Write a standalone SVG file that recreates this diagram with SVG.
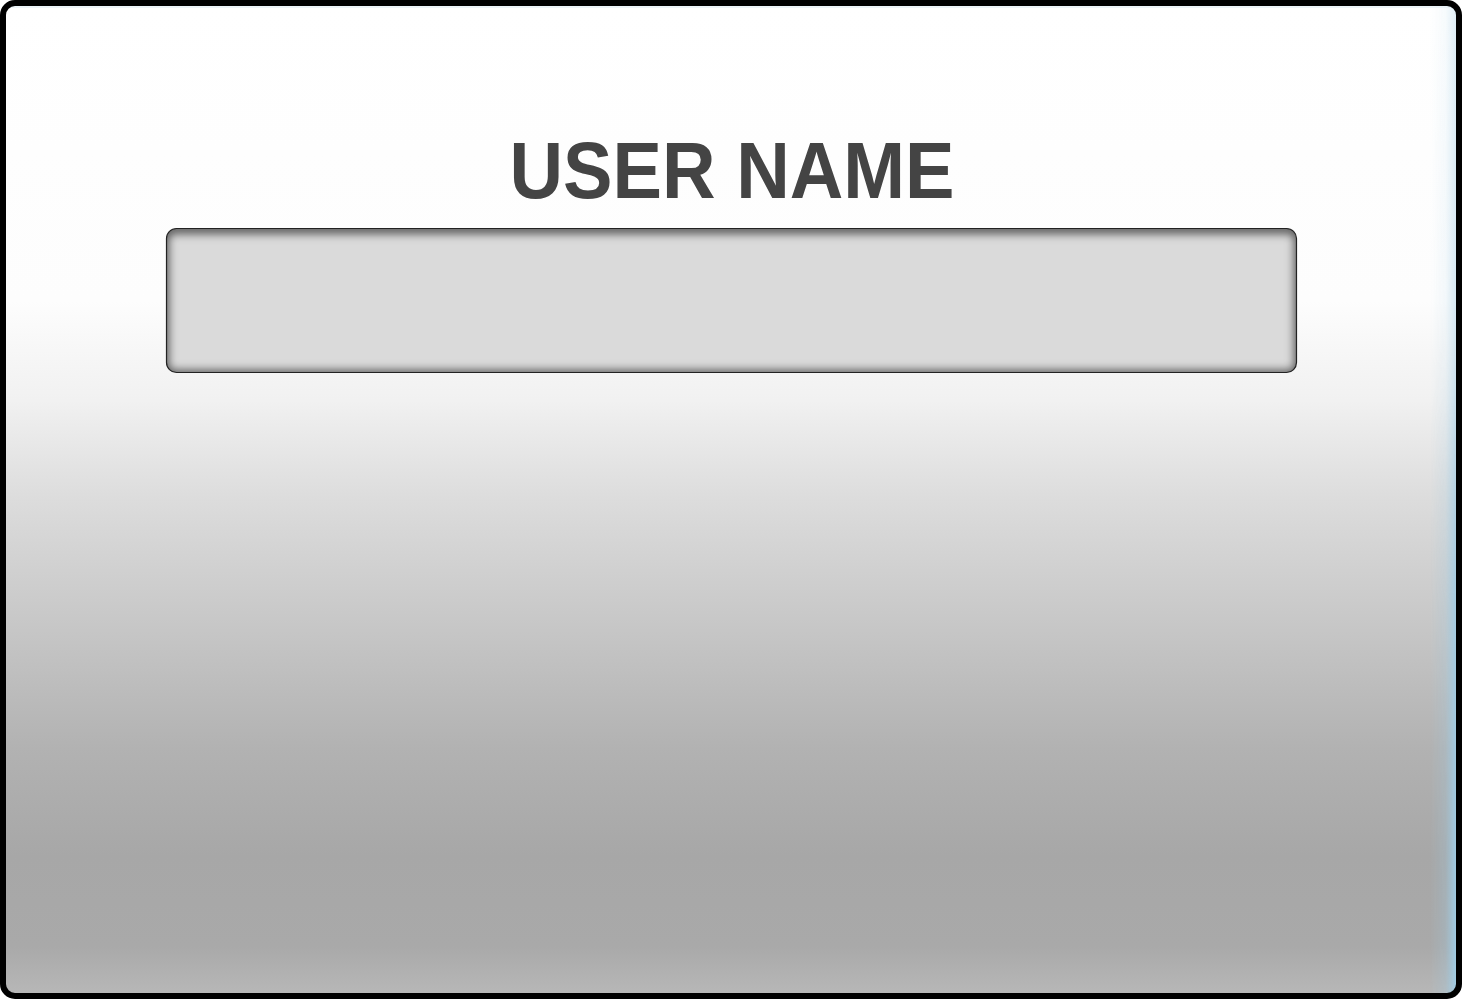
<svg xmlns="http://www.w3.org/2000/svg" width="1462" height="999" viewBox="0 0 1462 999">
  <defs>
    <linearGradient id="bg" x1="0" y1="0" x2="0" y2="1">
      <stop offset="0" stop-color="#ffffff"/>
      <stop offset="0.3" stop-color="#fdfdfd"/>
      <stop offset="0.4" stop-color="#f1f1f1"/>
      <stop offset="0.5" stop-color="#dcdcdc"/>
      <stop offset="0.62" stop-color="#c8c8c8"/>
      <stop offset="0.75" stop-color="#b2b2b2"/>
      <stop offset="0.86" stop-color="#a7a7a7"/>
      <stop offset="0.95" stop-color="#a9a9a9"/>
      <stop offset="1" stop-color="#b8b8b8"/>
    </linearGradient>
    <linearGradient id="edge" x1="0" y1="0" x2="1" y2="0">
      <stop offset="0" stop-color="#9fcde6" stop-opacity="0"/>
      <stop offset="0.6" stop-color="#9fcde6" stop-opacity="0.25"/>
      <stop offset="1" stop-color="#9fcde6" stop-opacity="0.95"/>
    </linearGradient>
    <linearGradient id="edgeFade" x1="0" y1="0" x2="0" y2="1">
      <stop offset="0" stop-color="#fff" stop-opacity="0.35"/>
      <stop offset="0.35" stop-color="#fff" stop-opacity="0.45"/>
      <stop offset="0.6" stop-color="#fff" stop-opacity="0.9"/>
      <stop offset="1" stop-color="#fff" stop-opacity="1"/>
    </linearGradient>
    <mask id="edgeMask">
      <rect x="1420" y="0" width="42" height="999" fill="url(#edgeFade)"/>
    </mask>
    <filter id="blur" x="-10%" y="-30%" width="120%" height="160%">
      <feGaussianBlur stdDeviation="5"/>
    </filter>
    <clipPath id="boxClip">
      <rect x="166.5" y="228.5" width="1130" height="144" rx="10"/>
    </clipPath>
    <clipPath id="frameClip">
      <rect x="3" y="3" width="1456" height="993" rx="12"/>
    </clipPath>
    <style>
      .label { font-family: "Liberation Sans", Arial, sans-serif; font-weight: bold; fill: #444444; }
    </style>
  </defs>
  <g id="frame">
    <rect x="3" y="3" width="1456" height="993" rx="12" fill="url(#bg)"/>
    <g clip-path="url(#frameClip)">
      <rect x="1430" y="3" width="26" height="993" fill="url(#edge)" mask="url(#edgeMask)"/>
      <rect x="3" y="3" width="1456" height="5" fill="#dbe9f1" opacity="0.5"/>
    </g>
    <rect x="3" y="3" width="1456" height="993" rx="12" fill="none" stroke="#000" stroke-width="6"/>
  </g>
  <g id="title">
    <text class="label" x="732" y="198" font-size="80" text-anchor="middle" textLength="445" lengthAdjust="spacingAndGlyphs">USER NAME</text>
  </g>
  <g id="input">
    <rect x="166.5" y="228.5" width="1130" height="144" rx="10" fill="#dadada"/>
    <g clip-path="url(#boxClip)">
      <rect x="163.5" y="228.5" width="1136" height="147" rx="10" fill="none" stroke="#000" stroke-opacity="0.65" stroke-width="10" filter="url(#blur)"/>
    </g>
    <rect x="166.5" y="228.5" width="1130" height="144" rx="10" fill="none" stroke="#222" stroke-width="1.2"/>
  </g>
</svg>
